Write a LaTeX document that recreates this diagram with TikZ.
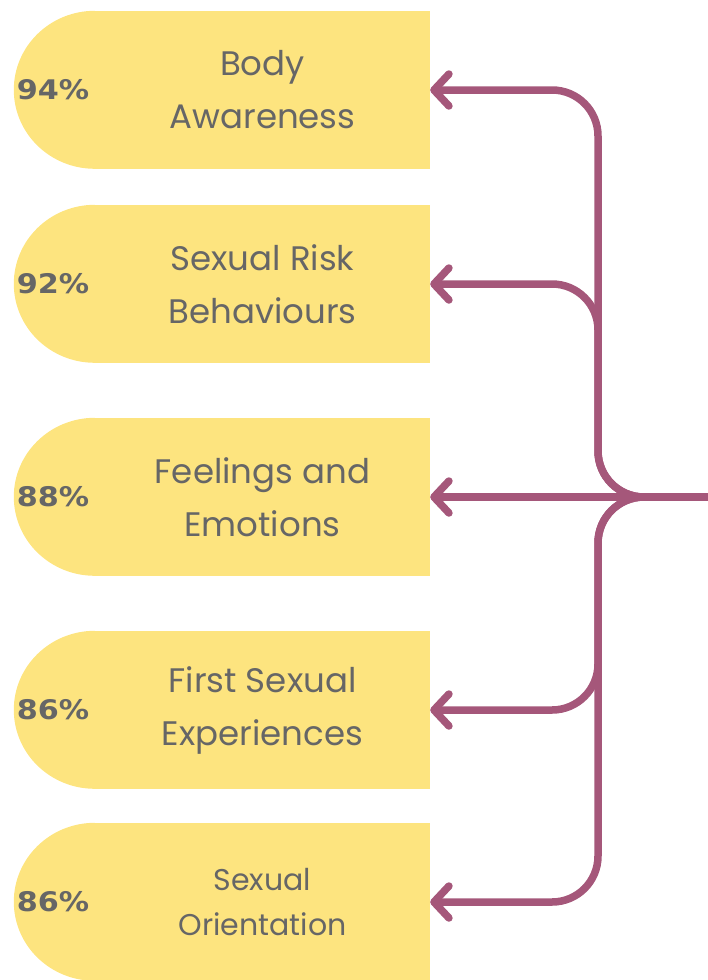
\documentclass[tikz,border=0pt]{standalone}
\usepackage{fontspec}
\setmainfont{Poppins}
\newfontfamily\pctfont[FakeStretch=1.12]{DejaVu Sans}
\usetikzlibrary{arrows.meta,positioning}
\definecolor{boxyellow}{HTML}{FDE47F}
\definecolor{linkplum}{HTML}{A5577A}
\definecolor{textgrey}{HTML}{666666}

\begin{document}
\begin{tikzpicture}[x=1pt,y=-1pt,
  topic/.style={fill=boxyellow, minimum width=335pt, minimum height=158pt, inner sep=0pt, align=center, text=textgrey, font=\fontsize{34}{53}\selectfont},
  pct/.style={text=textgrey, anchor=east, font=\pctfont\bfseries\fontsize{27}{30}\selectfont},
  link/.style={draw=linkplum, line width=7.5pt, rounded corners=46pt, -{Straight Barb[length=15pt,width=32pt,round]}}]
\useasboundingbox (0,0) rectangle (708,980);

% topic boxes
\node[topic] (awareness) at (262.5,90) {Body\\Awareness};
\node[topic] (risk) at (262.5,284) {Sexual Risk\\Behaviours};
\node[topic] (feelings) at (262.5,497) {Feelings and\\Emotions};
\node[topic] (first) at (262.5,710) {First Sexual\\Experiences};
\node[topic, font=\fontsize{30}{45}\selectfont] (orient) at (262.5,902) {Sexual\\Orientation};

% round caps on the left
\foreach \b in {awareness,risk,feelings,first,orient}
  \fill[boxyellow] (\b.north west) arc[start angle=90, delta angle=180, x radius=81pt, y radius=79pt] -- cycle;

% percentages
\node[pct, left=2pt of awareness.west] (p1) {94\%};
\node[pct, left=2pt of risk.west] (p2) {92\%};
\node[pct, left=2pt of feelings.west] (p3) {88\%};
\node[pct, left=2pt of first.west] (p4) {86\%};
\node[pct, left=2pt of orient.west] (p5) {86\%};

% connectors
\coordinate (hub) at (708,497);
\coordinate (spine) at (598,497);
\draw[link] (hub) -- (spine) -- (spine |- awareness.east) -- (awareness.east);
\draw[link] (hub) -- (spine) -- (spine |- risk.east) -- (risk.east);
\draw[link] (hub) -- (feelings.east);
\draw[link] (hub) -- (spine) -- (spine |- first.east) -- (first.east);
\draw[link] (hub) -- (spine) -- (spine |- orient.east) -- (orient.east);
\end{tikzpicture}
\end{document}
